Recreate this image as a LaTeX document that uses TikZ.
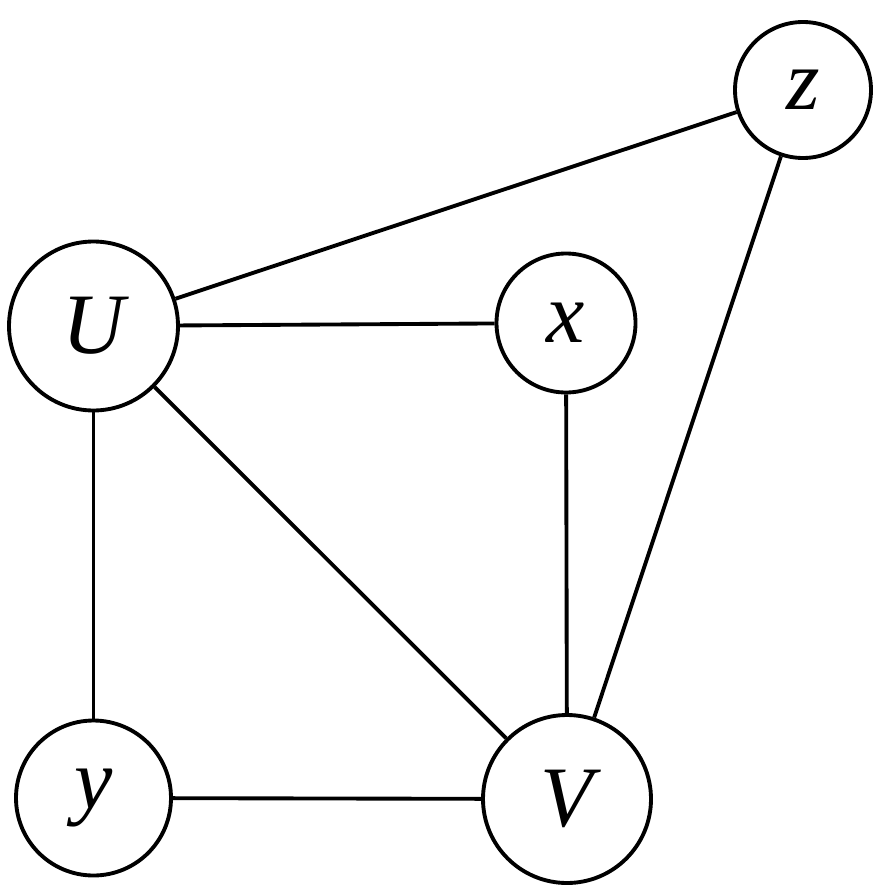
\documentclass[tikz,border=0pt]{standalone}
\usepackage{fontspec}
\setmainfont{Liberation Serif}
\usepackage{tikz}
\usetikzlibrary{positioning}

\begin{document}
\begin{tikzpicture}[font=\fontsize{49}{49}\selectfont\itshape,
  v/.style={draw,circle,line width=2.2pt,inner sep=0pt},
  e/.style={line width=2.2pt}]
\useasboundingbox (0,0) rectangle (17.68,-17.9);
\node[v,minimum size=3.38cm] (u) at (1.87,-6.52) {U};
\node[v,minimum size=2.78cm] (x) at (11.32,-6.46) {x};
\node[v,minimum size=2.72cm] (z) at (16.06,-1.80) {z};
\node[v,minimum size=3.10cm] (y) at (1.87,-15.96) {y};
\node[v,minimum size=3.36cm] (w) at (11.34,-15.98) {V};
\draw[e] (u) -- (z);
\draw[e] (u) -- (x);
\draw[e] (u) -- (w);
\draw[e] (u) -- (y);
\draw[e] (x) -- (w);
\draw[e] (z) -- (w);
\draw[e] (y) -- (w);
\end{tikzpicture}
\end{document}
